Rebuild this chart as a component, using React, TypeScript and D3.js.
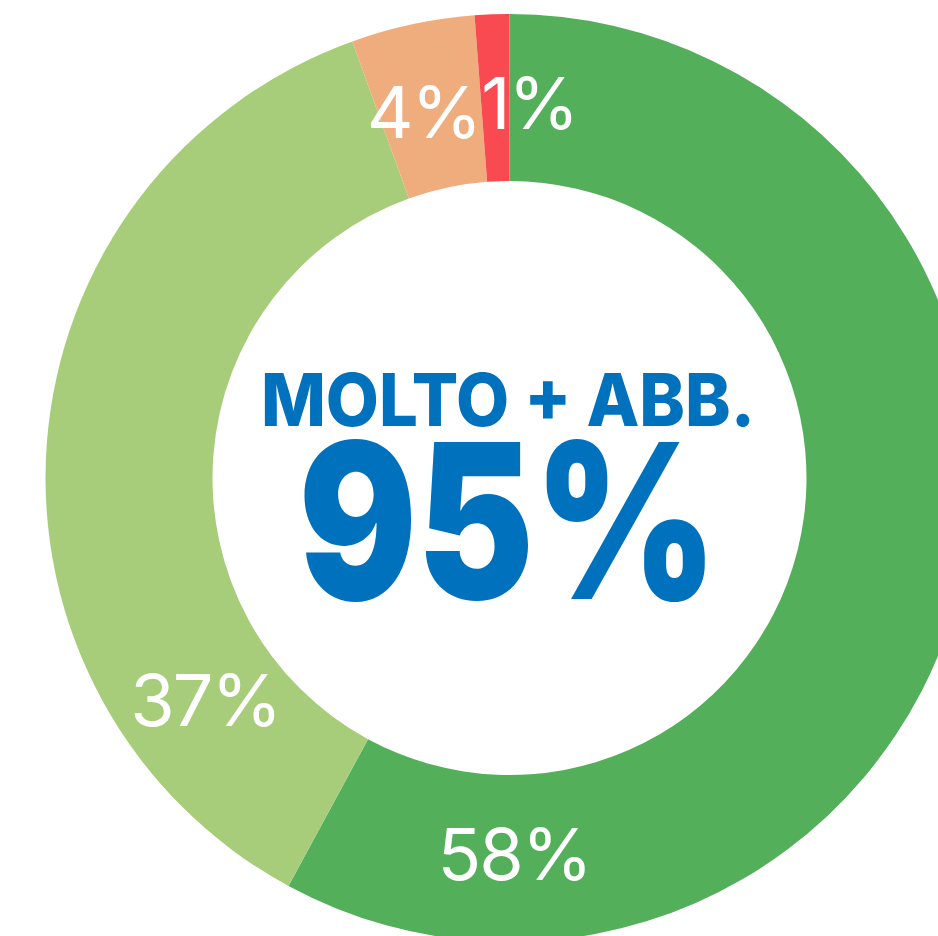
import React from "react";
import * as d3 from "d3";

const categories = ["Molto", "Abbastanza", "Poco", "Per niente"];
const values = [57.9, 36.6, 4.3, 1.2];
const labels = ["58%", "37%", "4%", "1%"];
const labelAngles = [179.3, 234, 346.8, 3.0];
const colors = ["#53AF5A", "#A8CD7A", "#EFAD7E", "#F94A52"];
const centerTitle = "MOLTO + ABB.";
const centerValue = "95%";

const W = 938;
const H = 936;
const CX = 509.5;
const CY = 478;
const R_OUT = 464;
const R_IN = 297;
const R_LABEL = 376;

export default function App() {
  const pie = d3.pie<number>().sort(null).value((d) => d);
  const arcs = pie(values);
  const arc = d3.arc<d3.PieArcDatum<number>>().innerRadius(R_IN).outerRadius(R_OUT);
  const toRad = (deg: number) => (deg * Math.PI) / 180;
  const labelArc = d3.arc<any>().innerRadius(R_LABEL).outerRadius(R_LABEL);

  return (
    <svg
      width={W}
      height={H}
      style={{ position: "absolute", left: 0, top: 0, display: "block", background: "#fff" }}
    >
      <g transform={`translate(${CX},${CY})`}>
        {arcs.map((a, i) => (
          <path key={categories[i]} d={arc(a) || ""} fill={colors[i]} />
        ))}
        {labels.map((t, i) => {
          const ang = toRad(labelAngles[i]);
          const [x, y] = labelArc.centroid({ startAngle: ang, endAngle: ang } as any);
          return (
            <text
              key={t}
              x={x}
              y={y}
              textAnchor="middle"
              dominantBaseline="central"
              fill="#fff"
              fontFamily="Inter, 'Noto Sans', sans-serif"
              fontWeight={400}
              fontSize={72}
              letterSpacing={-2}
            >
              {t}
            </text>
          );
        })}
        <text
          x={-1.5}
          y={-52}
          textAnchor="middle"
          fill="#0071BC"
          fontFamily="Inter, 'Noto Sans', sans-serif"
          fontWeight={800}
          fontSize={73}
          textLength={494}
          lengthAdjust="spacingAndGlyphs"
        >
          {centerTitle}
        </text>
        <text
          x={-1.5}
          y={121}
          textAnchor="middle"
          fill="#0071BC"
          fontFamily="Inter, 'Noto Sans', sans-serif"
          fontWeight={900}
          fontSize={216}
          textLength={419}
          lengthAdjust="spacingAndGlyphs"
        >
          {centerValue}
        </text>
      </g>
    </svg>
  );
}
